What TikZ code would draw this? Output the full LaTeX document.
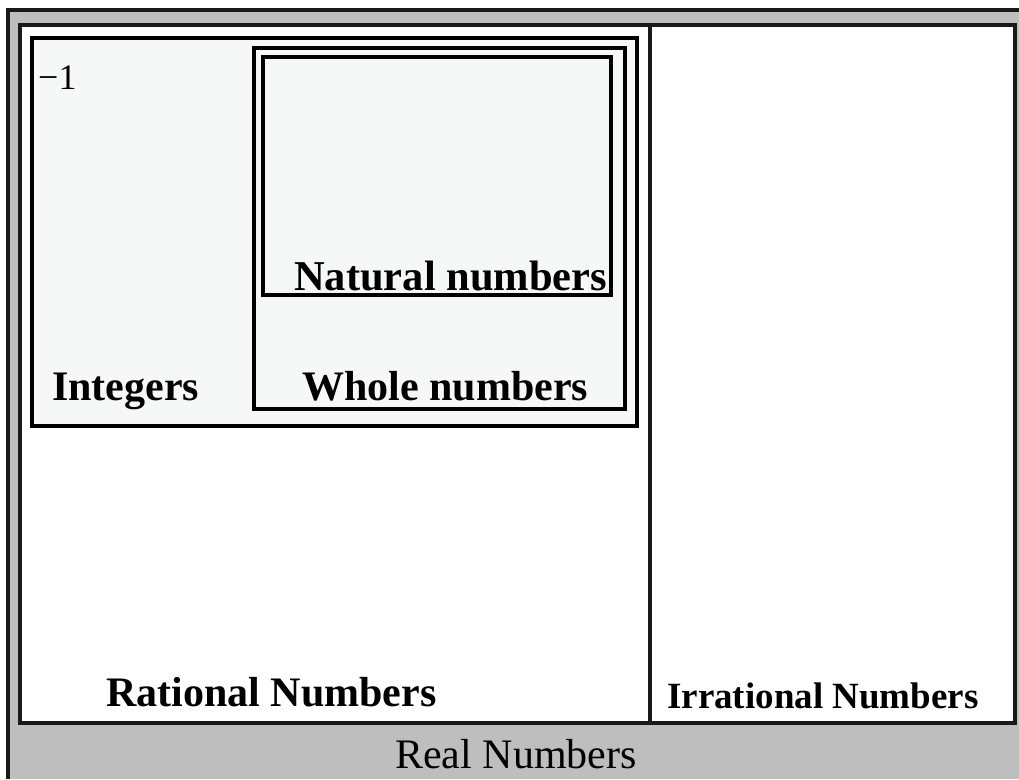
\documentclass[tikz,border=0pt]{standalone}
\usepackage{fontspec}
\setmainfont{Liberation Serif}
\definecolor{bandgray}{RGB}{190,190,190}
\definecolor{dotfill}{RGB}{246,247,247}
\tikzset{
  box/.style={draw=black, line width=3.2pt, line join=miter},
  frame/.style={draw=black!90, line width=3.2pt},
  lbl/.style={anchor=base west, inner sep=0pt, font=\bfseries\fontsize{42}{48}\selectfont},
}
\begin{document}
\begin{tikzpicture}[x=1pt,y=-1pt]
\useasboundingbox (0,0) rectangle (1019,779);
\fill[white] (0,0) rectangle (1019,779);
% outer grey frame (Real numbers)
\fill[bandgray] (8,10) rectangle (1019,779);
\draw[frame] (8,779) -- (8,10) -- (1019,10);
% rational + irrational region
\fill[white] (20,25) rectangle (1015,723);
\draw[frame] (20,25) rectangle (1015,723);
\draw[frame] (650,25) -- (650,723);
% integers
\fill[dotfill] (32,38) rectangle (637,426);
\draw[box] (32,38) rectangle (637,426);
% whole numbers
\draw[box] (254,48) rectangle (625,409);
% natural numbers
\draw[box] (263,57) rectangle (611,295);
% labels
\node[anchor=base west, inner sep=0pt, font=\fontsize{36}{40}\selectfont] (m1) at (38,89) {−1};
\node[lbl, font=\bfseries\fontsize{42.5}{48}\selectfont] (nat) at (294,290) {Natural numbers};
\node[lbl] (whole) at (302,400) {Whole numbers};
\node[lbl] (int) at (52,400) {Integers};
\node[lbl] (rat) at (106,706) {Rational Numbers};
\node[lbl, font=\bfseries\fontsize{37}{42}\selectfont] (irr) at (667,708) {Irrational Numbers};
\node[anchor=base west, inner sep=0pt, font=\fontsize{42}{48}\selectfont] (real) at (395,768) {Real Numbers};
\end{tikzpicture}
\end{document}
